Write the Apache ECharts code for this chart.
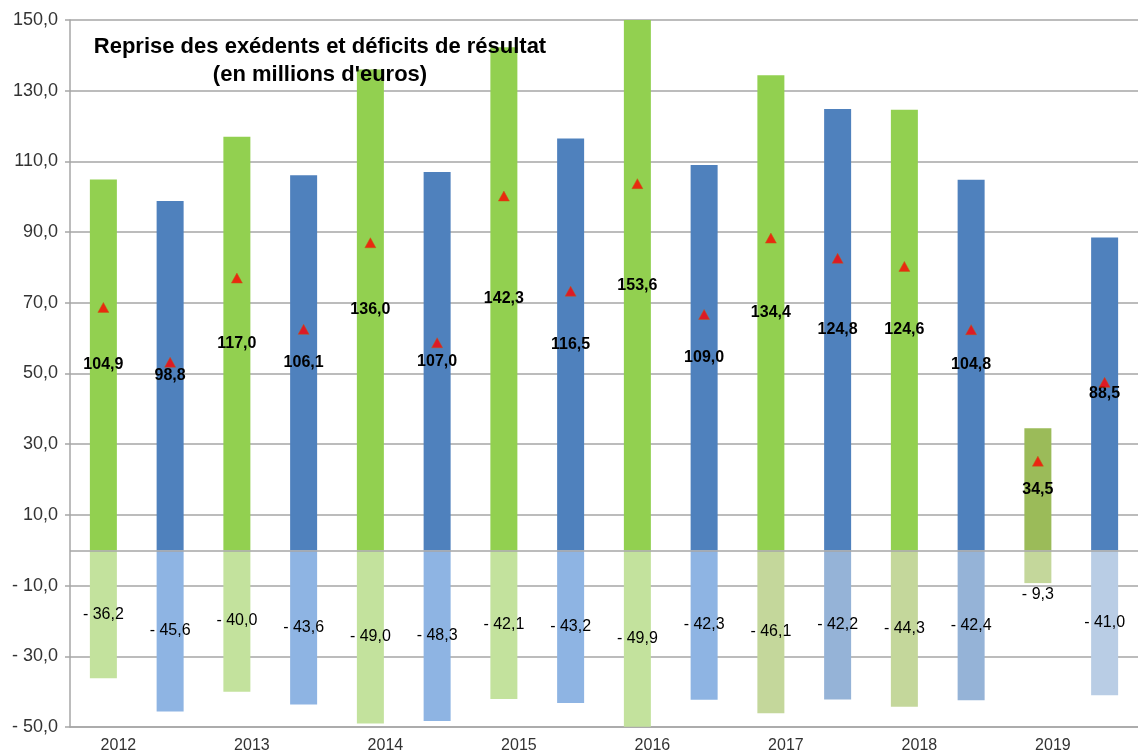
<!DOCTYPE html>
<html>
<head>
<meta charset="utf-8">
<script src="https://cdn.jsdelivr.net/npm/echarts@6/dist/echarts.min.js"></script>
<style>
  html, body { margin: 0; padding: 0; background: #fff; }
  #main { width: 1138px; height: 756px; }
</style>
</head>
<body>
<div id="main"></div>
<script>
// données (16 barres : 2 par année)
var years = ['2012', '2013', '2014', '2015', '2016', '2017', '2018', '2019'];
var excedents = [104.9, 98.8, 117.0, 106.1, 136.0, 107.0, 142.3, 116.5, 153.6, 109.0, 134.4, 124.8, 124.6, 104.8, 34.5, 88.5];
var deficits = [-36.2, -45.6, -40.0, -43.6, -49.0, -48.3, -42.1, -43.2, -49.9, -42.3, -46.1, -42.2, -44.3, -42.4, -9.3, -41.0];
var soldes = [68.7, 53.2, 77.0, 62.5, 87.0, 58.7, 100.2, 73.3, 103.7, 66.7, 88.3, 82.6, 80.3, 62.4, 25.2, 47.5];
var yTicks = [-50, -30, -10, 10, 30, 50, 70, 90, 110, 130, 150];

// couleurs (style)
var posColors = ['#92D050', '#4F81BD', '#92D050', '#4F81BD', '#92D050', '#4F81BD', '#92D050', '#4F81BD',
                 '#92D050', '#4F81BD', '#92D050', '#4F81BD', '#92D050', '#4F81BD', '#9BBB59', '#4F81BD'];
var negColors = ['#C3E29D', '#8EB4E3', '#C3E29D', '#8EB4E3', '#C3E29D', '#8EB4E3', '#C3E29D', '#8EB4E3',
                 '#C3E29D', '#8EB4E3', '#C4D79B', '#95B3D7', '#C4D79B', '#95B3D7', '#C4D79B', '#B9CDE5'];

var cats = [];
years.forEach(function (y) { cats.push(y + ' a'); cats.push(y + ' b'); });

function fr(v) {
  var s = Math.abs(v).toFixed(1).replace('.', ',');
  return v < 0 ? '- ' + s : s;
}

var myChart = echarts.init(document.getElementById('main'));
var option = {
  backgroundColor: '#fff',
  animation: false,
  textStyle: { fontFamily: 'Liberation Sans, Arial, sans-serif' },
  title: {
    text: "Reprise des exédents et déficits de résultat\n(en millions d'euros)",
    left: 315,
    top: 28,
    textAlign: 'center',
    textStyle: { fontSize: 22, fontWeight: 'bold', color: '#000', lineHeight: 28, align: 'center' }
  },
  grid: { left: 70, right: -12, top: 20, bottom: 29, containLabel: false },
  xAxis: {
    type: 'category',
    data: cats,
    axisLine: { onZero: false, lineStyle: { color: '#A6A6A6', width: 1.5 } },
    axisTick: { show: false },
    axisLabel: {
      interval: 0,
      margin: 11,
      fontSize: 16,
      color: '#333',
      padding: [0, 0, 0, 30],
      formatter: function (v, i) { return i % 2 === 0 ? years[i / 2] : ''; }
    },
    splitLine: { show: false }
  },
  yAxis: {
    type: 'value',
    min: yTicks[0],
    max: yTicks[yTicks.length - 1],
    interval: 20,
    axisLine: { show: true, lineStyle: { color: '#A6A6A6', width: 1.5 } },
    axisTick: { show: true, length: 5, lineStyle: { color: '#A6A6A6', width: 1.5 } },
    axisLabel: { fontSize: 18, color: '#333', margin: 12, formatter: fr },
    splitLine: { lineStyle: { color: '#A6A6A6', width: 1.5 } }
  },
  series: [
    {
      name: 'Excédents',
      type: 'bar',
      barWidth: 27,
      barGap: '-100%',
      data: excedents.map(function (v, i) {
        return { value: v, itemStyle: { color: posColors[i] } };
      }),
      label: {
        show: true,
        position: 'inside',
        fontSize: 16,
        fontWeight: 'bold',
        color: '#000',
        formatter: function (p) { return fr(p.value); }
      },
      markLine: {
        silent: true,
        symbol: 'none',
        label: { show: false },
        lineStyle: { color: '#A6A6A6', width: 1.5, type: 'solid' },
        data: [{ yAxis: 0 }]
      },
      z: 2
    },
    {
      name: 'Déficits',
      type: 'bar',
      barWidth: 27,
      barGap: '-100%',
      data: deficits.map(function (v, i) {
        var d = { value: v, itemStyle: { color: negColors[i] } };
        if (i === 14) d.label = { position: 'bottom', distance: 3 };
        return d;
      }),
      label: {
        show: true,
        position: 'inside',
        fontSize: 16,
        color: '#000',
        formatter: function (p) { return fr(p.value); }
      },
      z: 2
    },
    {
      name: 'Solde',
      type: 'scatter',
      symbol: 'triangle',
      symbolSize: [11, 10],
      itemStyle: { color: '#FF0000', borderColor: '#C55A11', borderWidth: 0.6 },
      data: soldes,
      z: 5
    }
  ]
};
myChart.setOption(option);
</script>
</body>
</html>
